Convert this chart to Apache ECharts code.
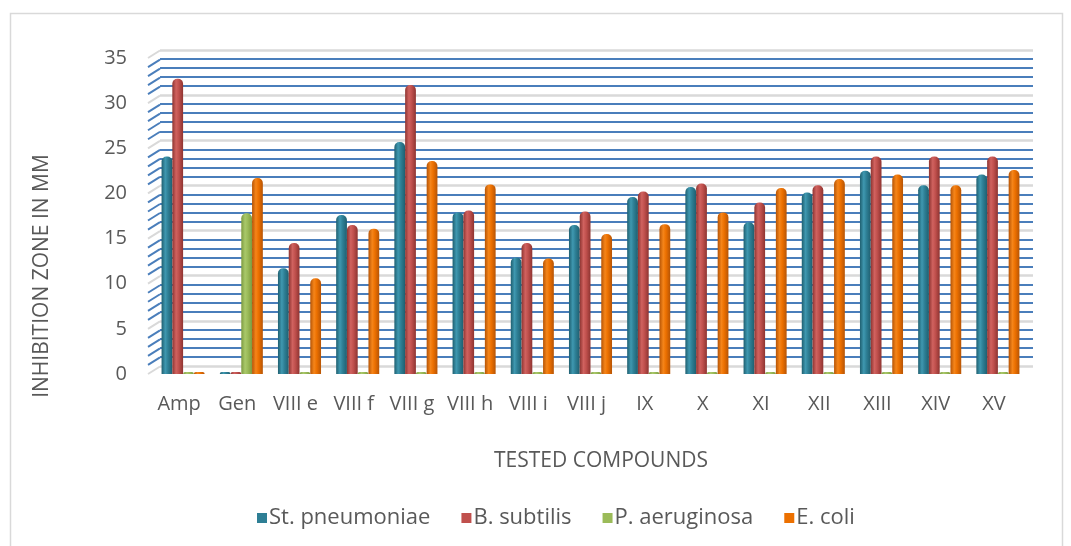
<!DOCTYPE html>
<html><head><meta charset="utf-8">
<script src="https://cdn.jsdelivr.net/npm/echarts@6/dist/echarts.min.js"></script>
<style>html,body{margin:0;padding:0;background:#fff}#c{width:1071px;height:546px}</style>
</head><body><div id="c"></div>
<script>
const categories = ['Amp','Gen','VIII e','VIII f','VIII g','VIII h','VIII i','VIII j','IX','X','XI','XII','XIII','XIV','XV'];
const stPneumoniae = [24.1, 0, 11.7, 17.6, 25.7, 17.9, 12.9, 16.5, 19.6, 20.7, 16.8, 20.1, 22.5, 20.9, 22.1];
const bSubtilis    = [32.7, 0, 14.5, 16.5, 32.0, 18.1, 14.5, 18.0, 20.2, 21.1, 19.0, 20.9, 24.1, 24.1, 24.1];
const pAeruginosa  = [0, 17.8, 0, 0, 0, 0, 0, 0, 0, 0, 0, 0, 0, 0, 0];
const eColi        = [0, 21.7, 10.6, 16.1, 23.6, 21.0, 12.8, 15.5, 16.6, 17.9, 20.6, 21.6, 22.1, 20.9, 22.6];
const seriesNames = ['St. pneumoniae','B. subtilis','P. aeruginosa','E. coli'];
const yTicks = [0,1,2,3,4,5,6,7,8,9,10,11,12,13,14,15,16,17,18,19,20,21,22,23,24,25,26,27,28,29,30,31,32,33,34,35];
const xTitle = 'TESTED COMPOUNDS';
const yTitle = 'INHIBITION ZONE IN MM';

const FONT = '"Open Sans"';
const TXT = '#595959';
function cyl(dark, mid, light){
  return {type:'linear',x:0,y:0,x2:1,y2:0,colorStops:[
    {offset:0,color:dark},{offset:0.35,color:light},{offset:0.6,color:mid},{offset:1,color:dark}]};
}
const colors = [
  cyl('#1f5f70','#2e7f95','#3f98b0'),
  cyl('#8e3431','#c0504d','#d0625f'),
  cyl('#7c9a40','#9bbb59','#a9c86a'),
  cyl('#b65405','#ec7000','#f5851a')
];
const legendColors = ['#2e7f95','#c0504d','#9bbb59','#ec7000'];
const dataArr = [stPneumoniae,bSubtilis,pAeruginosa,eColi];

const chart = echarts.init(document.getElementById('c'));
const barSeries = dataArr.map((d,i)=>({
  name: seriesNames[i], type:'bar', xAxisIndex:2, yAxisIndex:2,
  data: d, barGap:'0%', barCategoryGap:'26%', barMinHeight:2,
  itemStyle:{color:colors[i], borderRadius:[5,5,0,0]},
  z:5
}));
chart.setOption({
  animation:false,
  color: legendColors,
  graphic:[
    {type:'rect',shape:{x:10.5,y:13.5,width:1052,height:545},style:{fill:'none',stroke:'#d9d9d9',lineWidth:1.5},silent:true},
    {type:'text', x:601, y:461, style:{text:xTitle, font:'21px "Open Sans"', fill:TXT, textAlign:'center', textVerticalAlign:'middle'}},
    {type:'text', x:42, y:276, rotation:Math.PI/2, style:{text:yTitle, font:'21px "Open Sans"', fill:TXT, textAlign:'center', textVerticalAlign:'middle'}}
  ],
  grid:[
    {left:160, right:38, top:50, bottom:180},   // back wall
    {left:150, right:48, top:58, bottom:172},   // labels
    {left:154, right:44, top:58, bottom:172}    // bars
  ],
  legend:{
    bottom:12, left:252, itemWidth:10, itemHeight:10, itemGap:31,
    icon:'rect',
    data: seriesNames.map((n,i)=>({name:n, itemStyle:{color:legendColors[i]}})),
    textStyle:{fontFamily:FONT, fontSize:22, color:TXT, padding:[0,0,0,-3]}
  },
  xAxis:[
    {gridIndex:0, type:'category', data:categories, show:false},
    {gridIndex:1, type:'category', data:categories,
     axisLine:{show:false}, axisTick:{show:false},
     axisLabel:{fontFamily:FONT, fontSize:20, color:TXT, margin:20, interval:0}},
    {gridIndex:2, type:'category', data:categories, show:false}
  ],
  yAxis:[
    {gridIndex:0, type:'value', min:0, max:35, interval:5,
     axisLine:{show:false}, axisTick:{show:false}, axisLabel:{show:false},
     splitLine:{show:true, lineStyle:{color:'#d9d9d9', width:2.5}},
     minorTick:{show:false, splitNumber:5},
     minorSplitLine:{show:true, lineStyle:{color:'#4a7ebb', width:2.2}}},
    {gridIndex:1, type:'value', min:0, max:35, interval:5,
     axisLine:{show:false}, axisTick:{show:false}, splitLine:{show:false},
     axisLabel:{fontFamily:FONT, fontSize:20, color:TXT, margin:23}},
    {gridIndex:2, type:'value', min:0, max:35, interval:5, show:false, splitLine:{show:false}}
  ],
  series:[
    {type:'custom', xAxisIndex:1, yAxisIndex:1, silent:true, z:1,
     data: yTicks.map(v=>[0,v]),
     renderItem:function(params, api){
       const v = api.value(1);
       const p = api.coord([0, v]);
       const x0 = params.coordSys.x - 2;
       return {type:'line', shape:{x1:x0, y1:p[1], x2:x0+12, y2:p[1]-7.5},
         style:{stroke: (v%5===0)?'#d9d9d9':'#4a7ebb', lineWidth:2}};
     }},
    ...barSeries
  ]
});
</script></body></html>
